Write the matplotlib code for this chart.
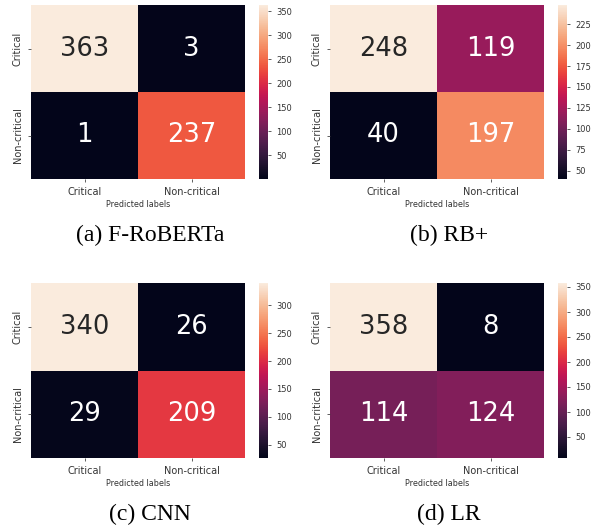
import matplotlib
matplotlib.use("Agg")
from matplotlib import pyplot as plt
import seaborn as sns
import numpy as np

labels = ["Critical", "Non-critical"]
captions = ["(a) F-RoBERTa", "(b) RB+", "(c) CNN", "(d) LR"]

cm_froberta = [[363, 3], [1, 237]]
cm_rbplus = [[248, 119], [40, 197]]
cm_cnn = [[340, 26], [29, 209]]
cm_lr = [[358, 8], [114, 124]]

W, H = 592, 526
fig = plt.figure(figsize=(W / 100, H / 100), dpi=100)


def px(x0, y0, x1, y1):
    # pixel box -> figure fraction rect
    return [x0 / W, 1 - y1 / H, (x1 - x0) / W, (y1 - y0) / H]


panels = [
    (cm_froberta, 31, 5, 179),
    (cm_rbplus, 330, 5, 179),
    (cm_cnn, 31, 283, 458),
    (cm_lr, 330, 283, 458),
]

for (cm, x0, y0, y1), cap in zip(panels, captions):
    ax = fig.add_axes(px(x0, y0, x0 + 214, y1))
    cax = fig.add_axes(px(x0 + 228, y0, x0 + 237, y1))
    sns.heatmap(np.array(cm), annot=True, fmt="d", cmap="rocket", ax=ax, cbar_ax=cax,
                xticklabels=labels, yticklabels=labels,
                annot_kws={"size": 18.5})
    ax.tick_params(labelsize=7, length=2.5, width=0.6, colors="#444444", labelcolor="#333333")
    ax.set_xlabel("Predicted labels", fontsize=5.8, color="#333333", labelpad=2)
    cax.tick_params(labelsize=6, length=2.5, width=0.6, colors="#444444", labelcolor="#333333")
    fig.text((x0 + 119) / W, 1 - (y1 + 56) / H, cap, ha="center", va="center",
             fontsize=17, family="Liberation Serif")

fig.savefig("out.png", dpi=100)
